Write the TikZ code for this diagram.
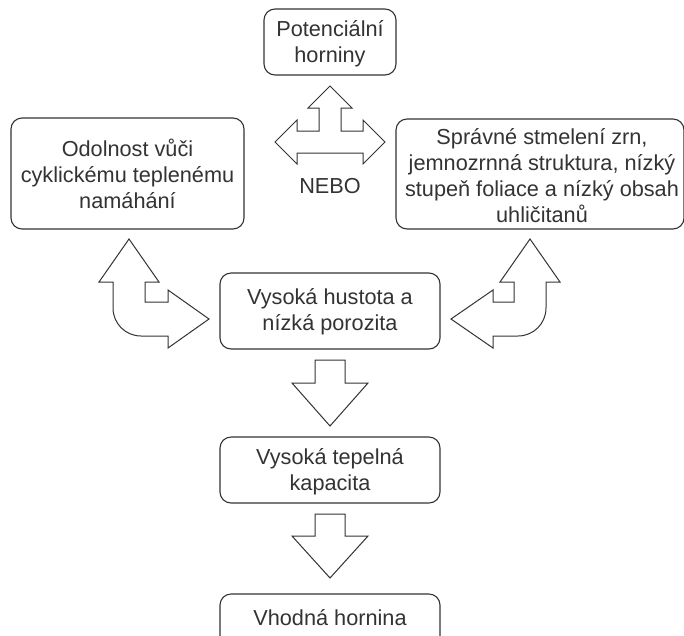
\documentclass[tikz,border=0pt]{standalone}
\usepackage{fontspec}
\setmainfont{Liberation Sans}
\definecolor{ink}{HTML}{333333}
\begin{document}
\begin{tikzpicture}[x=1pt,y=-1pt,
  every node/.style={font=\fontsize{21.7}{26}\selectfont, text=ink, align=center, inner sep=0pt},
  box/.style={draw=ink, line width=1.1pt, rounded corners=11pt, fill=white},
  blockarrow/.style={draw=ink, line width=1pt, fill=white, line join=miter}]
\useasboundingbox (0,0) rectangle (684,635);
\clip (0,0) rectangle (684,635);
% boxes
\node[box, minimum width=132pt, minimum height=66pt] (top) at (330,42) {};
\node at (330,44) (toptxt) {Potenciální\\horniny};
\node[box, minimum width=233pt, minimum height=111pt] (left) at (127.5,173.5) {};
\node at (127.5,174) (lefttxt) {Odolnost vůči\\cyklickému teplenému\\namáhání};
\node[box, minimum width=288pt, minimum height=110pt] (right) at (540,174) {};
\node at (542,176) (righttxt) {Správné stmelení zrn,\\jemnozrnná struktura, nízký\\stupeň foliace a nízký obsah\\uhličitanů};
\node[box, minimum width=220pt, minimum height=76pt] (mid) at (330,311) {};
\node at (330,312) (midtxt) {Vysoká hustota a\\nízká porozita};
\node[box, minimum width=220pt, minimum height=66pt] (cap) at (330,470) {};
\node at (330,472) (captxt) {Vysoká tepelná\\kapacita};
\node[box, minimum width=220pt, minimum height=60pt] (res) at (330,624) {};
\node at (330,618) (restxt) {Vhodná hornina};
\node at (330,186) (nebo) {NEBO};
% tri-directional arrow
\draw[blockarrow] (330,86) -- (352,108) -- (341,108) -- (341,131) -- (363,131) -- (363,120)
  -- (385,142) -- (363,164) -- (363,153) -- (297,153) -- (297,164) -- (275,142) -- (297,120)
  -- (297,131) -- (319,131) -- (319,108) -- (308,108) -- cycle;
% left bent arrow
\draw[blockarrow] (129,239) -- (159,282) -- (145,282) -- (145,302) -- (168,302) -- (168,290)
  -- (209,319) -- (168,348) -- (168,336) -- (141,336)
  .. controls (125.5,336) and (113,323.5) .. (113,308) -- (113,282) -- (99,282) -- cycle;
% right bent arrow
\draw[blockarrow] (530,239) -- (560,282) -- (546,282) -- (546,308)
  .. controls (546,323.5) and (533.5,336) .. (518,336) -- (493,336) -- (493,348)
  -- (451,319) -- (493,290) -- (493,302) -- (514,302) -- (514,282) -- (500,282) -- cycle;
% down arrows
\draw[blockarrow] (315,360) -- (345,360) -- (345,383) -- (368,383) -- (330,426) -- (292,383) -- (315,383) -- cycle;
\draw[blockarrow] (315,514) -- (345,514) -- (345,536) -- (368,536) -- (330,578) -- (292,536) -- (315,536) -- cycle;
\end{tikzpicture}
\end{document}
